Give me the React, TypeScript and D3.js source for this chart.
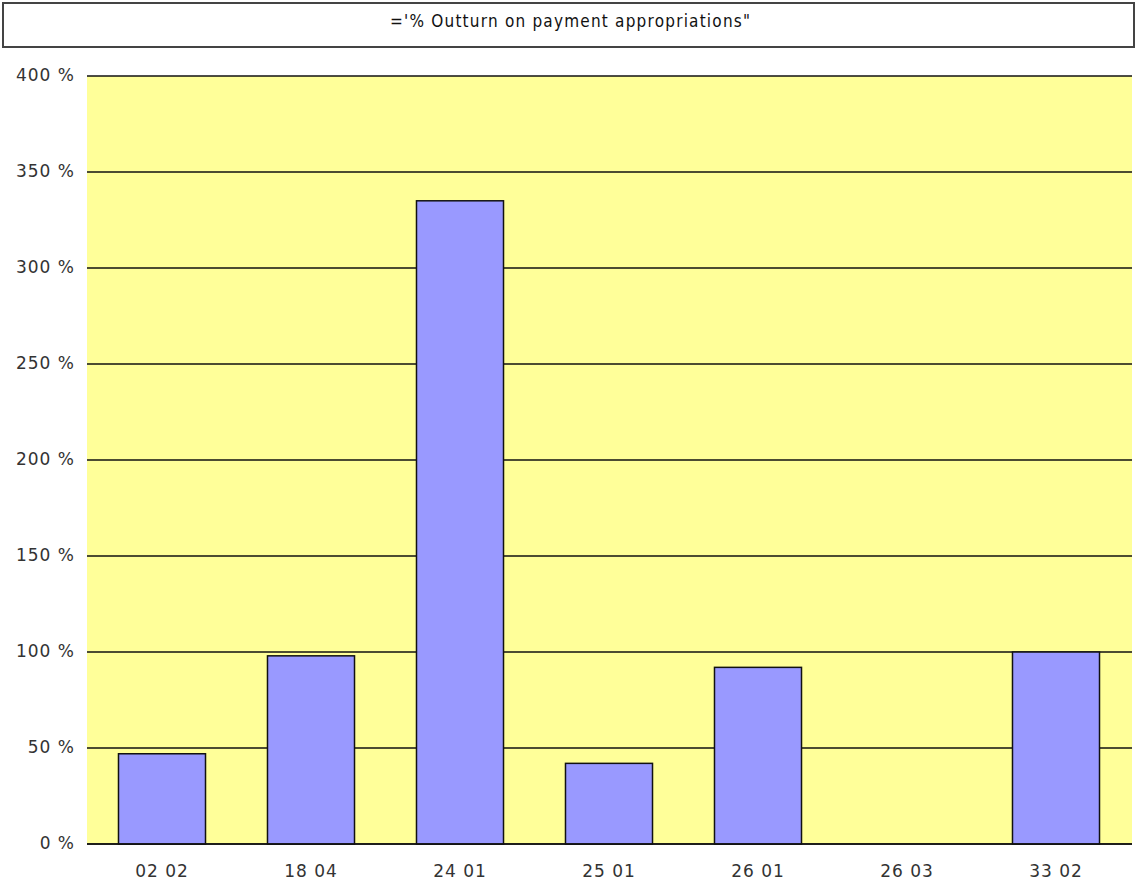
import React from "react";
import * as d3 from "d3";

const categories = ["02 02", "18 04", "24 01", "25 01", "26 01", "26 03", "33 02"];
const values = [47, 98, 335, 42, 92, 0, 100];
const yTicks = [0, 50, 100, 150, 200, 250, 300, 350, 400];
const title = "='% Outturn on payment appropriations\"";

const W = 1137;
const H = 887;
const plotLeft = 87;
const plotRight = 1132;
const plotTop = 76;
const plotBottom = 844;

export default function App() {
  const x = d3
    .scaleBand<string>()
    .domain(categories)
    .range([87.5, 1130.5])
    .paddingInner(0.416)
    .paddingOuter(0.208);
  const y = d3.scaleLinear().domain([0, 400]).range([plotBottom, plotTop]);

  return (
    <svg
      width={W}
      height={H}
      style={{ position: "absolute", left: 0, top: 0, display: "block", background: "#fff" }}
      fontFamily="DejaVu Sans, sans-serif"
    >
      <rect x={3} y={3} width={1131} height={44} fill="#fff" stroke="#444" strokeWidth={2} />
      <text
        x={570}
        y={27}
        textAnchor="middle"
        fontSize={17}
        fontFamily="DejaVu Sans Condensed, DejaVu Sans, sans-serif"
        fill="#111"
        textLength={360}
        lengthAdjust="spacing"
      >
        {title}
      </text>

      <rect x={plotLeft} y={plotTop} width={plotRight - plotLeft} height={plotBottom - plotTop} fill="#FFFF99" />

      {yTicks.map((t) => (
        <g key={t}>
          <line x1={plotLeft} x2={plotRight} y1={y(t)} y2={y(t)} stroke="#111" strokeWidth={1.5} />
          <text x={75} y={y(t) + 4.5} textAnchor="end" fontSize={17} letterSpacing={1} fill="#333">
            {`${t} %`}
          </text>
        </g>
      ))}

      {categories.map((c, i) =>
        values[i] > 0 ? (
          <rect
            key={c}
            x={x(c)}
            y={y(values[i])}
            width={x.bandwidth()}
            height={y(0) - y(values[i])}
            fill="#9999FF"
            stroke="#111"
            strokeWidth={1.5}
          />
        ) : null
      )}

      <line x1={plotLeft} x2={plotRight} y1={plotBottom} y2={plotBottom} stroke="#111" strokeWidth={1.5} />

      {categories.map((c) => (
        <text
          key={c}
          x={(x(c) as number) + x.bandwidth() / 2}
          y={plotBottom + 33}
          textAnchor="middle"
          fontSize={17}
          letterSpacing={1}
          fill="#333"
        >
          {c}
        </text>
      ))}
    </svg>
  );
}
